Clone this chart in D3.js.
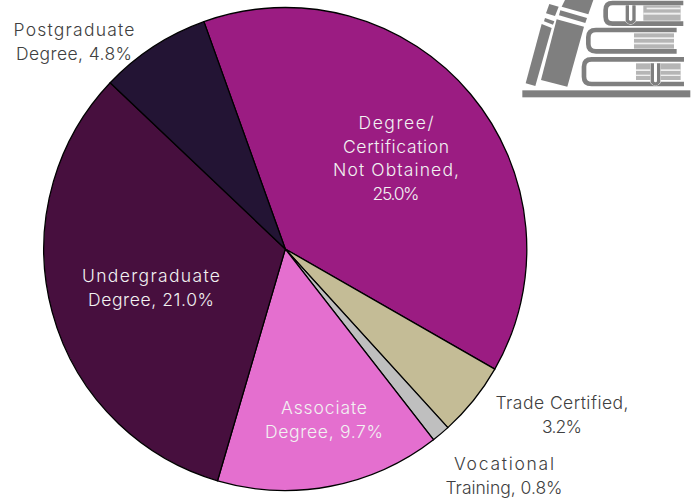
<!DOCTYPE html>
<html>
<head>
<meta charset="utf-8">
<script src="https://cdn.jsdelivr.net/npm/d3@7"></script>
<style>
  html, body { margin: 0; padding: 0; background: #fff; }
  text { font-family: "Inter", "Open Sans", sans-serif; font-size: 17.5px; font-weight: 300; }
</style>
</head>
<body>
<div id="chart"></div>
<script>
//data, clockwise from the segment at the upper right
const categories = ["Degree/ Certification Not Obtained", "Trade Certified", "Vocational Training", "Associate Degree", "Undergraduate Degree", "Postgraduate Degree"];
const values = [25.0, 3.2, 0.8, 9.7, 21.0, 4.8];
const colours = ["#9b1c82", "#c4bc96", "#bfbfbf", "#e46fcf", "#470f3e", "#231434"];
const labelLines = [
    ["Degree/", "Certification", "Not Obtained,", "25.0%"],
    ["Trade Certified,", "3.2%"],
    ["Vocational", "Training, 0.8%"],
    ["Associate", "Degree, 9.7%"],
    ["Undergraduate", "Degree, 21.0%"],
    ["Postgraduate", "Degree, 4.8%"],
];
//the original font is wider than anything installed, so each line gets its measured width
const labelWidths = [
    [75, 106, 126, 47],
    [133, 40],
    [100, 117],
    [86, 118],
    [138, 126],
    [121, 116],
];
const labelColours = ["#f2f2f2", "#404040", "#404040", "#f2f2f2", "#f2f2f2", "#404040"];
const labelPos = [[396, 129], [562, 409], [504, 470], [324, 414], [151, 282], [74, 36]];

const width = 691, height = 500;
const cx = 285.3, cy = 249, radius = 241.5;

let svg = d3.select("#chart").append("svg").attr("width", width).attr("height", height).style("display", "block");

//the pie starts about 20 degrees left of the top
const startAngle = -19.7 * Math.PI / 180;
const pie = d3.pie().sort(null).startAngle(startAngle).endAngle(startAngle + 2 * Math.PI);
const arc = d3.arc().innerRadius(0).outerRadius(radius);

svg.append("g")
    .attr("transform", `translate(${cx},${cy})`)
    .selectAll("path")
    .data(pie(values))
    .join("path")
    .attr("d", arc)
    .attr("fill", (d, i) => colours[i])
    .attr("stroke", "#000")
    .attr("stroke-width", 1.3)
    .attr("stroke-linejoin", "round");

//labels, one text element per line
const lineHeight = 23.5;
svg.append("g")
    .selectAll("g")
    .data(categories)
    .join("g")
    .selectAll("text")
    .data((d, i) => labelLines[i].map((t, j) => ({ t, i, j })))
    .join("text")
    .attr("text-anchor", "middle")
    .attr("fill", (d) => labelColours[d.i])
    .attr("x", (d) => labelPos[d.i][0])
    .attr("y", (d) => labelPos[d.i][1] + d.j * lineHeight)
    .attr("textLength", (d) => labelWidths[d.i][d.j])
    .attr("lengthAdjust", "spacing")
    .text((d) => d.t);

//books icon, drawn in 3x units from the corner crop
const grey = "#7f7f7f";
let icon = svg.append("g").attr("transform", "translate(510,0) scale(0.3333)").attr("fill", grey);

//shelf
icon.append("rect").attr("x", 37).attr("y", 271).attr("width", 504).attr("height", 21);

//leaning books
const leaning = [
    "M118,12 L146,20 L135,48 L108,40 Z",
    "M105,54 L133,64 L129,74 L102,64 Z",
    "M95,72 L125,84 L76,258 L47,250 Z",
    "M165,0 L250,0 L235,43 L155,20 Z",
    "M151,31 L231,54 L226,69 L147,46 Z",
    "M140,58 L222,80 L172,260 L93,240 Z",
];
icon.selectAll(".leaning").data(leaning).join("path").attr("class", "leaning").attr("d", (d) => d);

//lying books, as thick open outlines
const covers = [
    "M520,9 L308,9 Q287,9 287,30 L287,50 Q287,71 308,71 L520,71",
    "M500,90 L258,90 Q235,90 235,112 L235,132 Q235,154 258,154 L500,154",
    "M522,178 L245,178 Q222,178 222,200 L222,230 Q222,252 245,252 L522,252",
];
icon.selectAll(".cover").data(covers).join("path")
    .attr("class", "cover")
    .attr("d", (d) => d)
    .attr("fill", "none")
    .attr("stroke", grey)
    .attr("stroke-width", 14);

//page stripes
const stripes = [
    [400, 16, 112, 46],
    [372, 100, 120, 46],
    [378, 190, 134, 50],
];
icon.selectAll(".pages").data(stripes).join("rect")
    .attr("class", "pages")
    .attr("x", (d) => d[0]).attr("y", (d) => d[1])
    .attr("width", (d) => d[2]).attr("height", (d) => d[3])
    .attr("fill", "#b5b5b5");
const gaps = [[410, 23, 102, 5], [400, 38, 112, 6], [372, 112, 120, 5], [372, 128, 120, 5], [378, 208, 134, 5], [378, 224, 134, 4]];
icon.selectAll(".gap").data(gaps).join("rect")
    .attr("class", "gap")
    .attr("x", (d) => d[0]).attr("y", (d) => d[1])
    .attr("width", (d) => d[2]).attr("height", (d) => d[3])
    .attr("fill", "#efefef");

//bookmarks: a white halo with a grey u-shaped outline on top
const marks = [
    "M352,16 L352,62 Q362,74 372,62 L372,16",
    "M427,190 L427,246 Q436,258 446,246 L446,190",
];
icon.selectAll(".markbg").data(marks).join("path")
    .attr("class", "markbg")
    .attr("d", (d) => d)
    .attr("fill", "#fff")
    .attr("stroke", "#fff")
    .attr("stroke-width", 12);
icon.selectAll(".mark").data(marks).join("path")
    .attr("class", "mark")
    .attr("d", (d) => d)
    .attr("fill", "none")
    .attr("stroke", grey)
    .attr("stroke-width", 10);
</script>
</body>
</html>
